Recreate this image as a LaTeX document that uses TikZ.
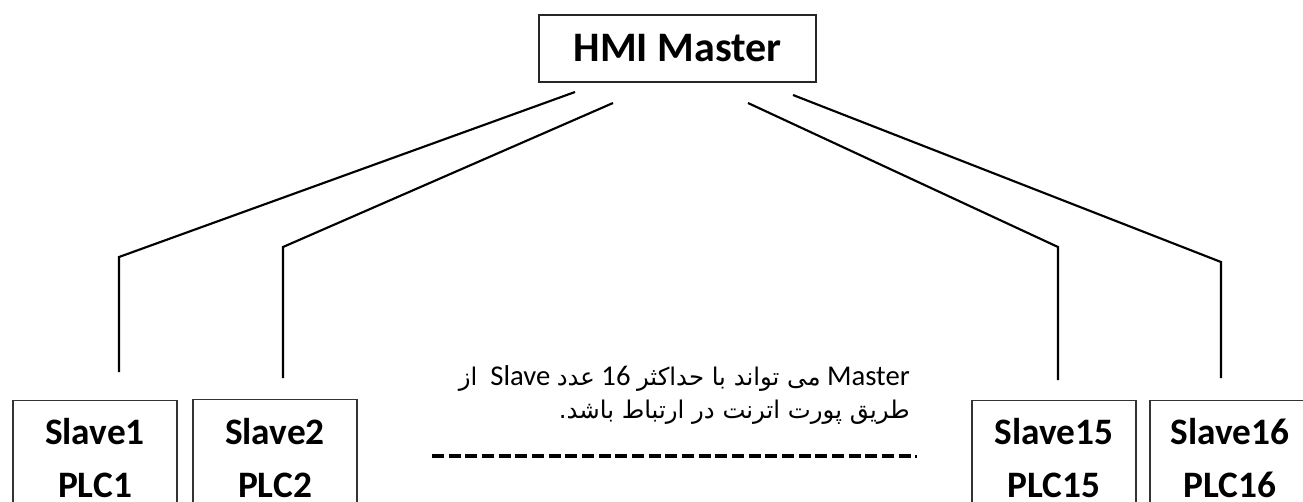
\documentclass[tikz,border=0pt]{standalone}
\usepackage{fontspec}
\setmainfont{Carlito}
\newfontfamily\fa[Script=Arabic,Scale=0.85]{DejaVu Sans}
\TeXXeTstate=1
\begin{document}
\begin{tikzpicture}[x=0.75pt,y=-0.75pt,
  conn/.style={line width=1.6pt, line join=miter},
  slavebox/.style={draw=black!80, line width=0.8pt, minimum width=123pt, minimum height=97.5pt, inner sep=0pt, anchor=north},
  lbl/.style={font=\fontsize{28}{39.75}\selectfont\bfseries, align=center, anchor=base, inner sep=0pt}]
\useasboundingbox (0,0) rectangle (1303,501);
\fill[white] (0,0) rectangle (1303,501);
% master
\node[draw=black!85, line width=0.8pt, minimum width=207.75pt, minimum height=50.25pt, inner sep=0pt,
  font=\fontsize{31.5}{37}\selectfont\bfseries] (hmi) at (677.5,48.5) {HMI Master};
% slave boxes
\node[slavebox] (b1) at (95,400) {};
\node[slavebox] (b2) at (275,399) {};
\node[slavebox] (b15) at (1054,400) {};
\node[slavebox] (b16) at (1232,400) {};
\node[lbl] (t1) at (95,497) {Slave1\\PLC1};
\node[lbl] (t2) at (275,497) {Slave2\\PLC2};
\node[lbl] (t15) at (1054,497) {Slave15\\PLC15};
\node[lbl] (t16) at (1230,497) {Slave16\\PLC16};
% connector points
\coordinate (a1) at (575,92);  \coordinate (k1) at (119,257);  \coordinate (e1) at (119,372);
\coordinate (a2) at (613,103); \coordinate (k2) at (283,247);  \coordinate (e2) at (283,378);
\coordinate (a3) at (748,103); \coordinate (k3) at (1058,247); \coordinate (e3) at (1058,380);
\coordinate (a4) at (793,95);  \coordinate (k4) at (1221,262); \coordinate (e4) at (1221,378);
\draw[conn] (a1) -- (k1) -- (e1);
\draw[conn] (a2) -- (k2) -- (e2);
\draw[conn] (a3) -- (k3) -- (e3);
\draw[conn] (a4) -- (k4) -- (e4);
% note (right to left)
\node[anchor=base east, align=right, inner sep=0pt, font=\fontsize{21.5}{24.75}\selectfont] (note) at (910,418)
  {\beginR Master {\fa می تواند با حداکثر} 16 {\fa عدد} Slave\ \ {\fa از}\endR\\
   \beginR{\fa طریق پورت اترنت در ارتباط باشد.}\endR};
% dashed line
\coordinate (dl) at (432,456);
\coordinate (dr) at (912,456);
\draw[line width=2.7pt, dash pattern=on 9pt off 3.5pt] (dl) -- (dr);
\coordinate (dot) at (916,456);
\fill (dot) ++(-1.2,-1.5) rectangle ++(2.4,3);
\end{tikzpicture}
\end{document}
